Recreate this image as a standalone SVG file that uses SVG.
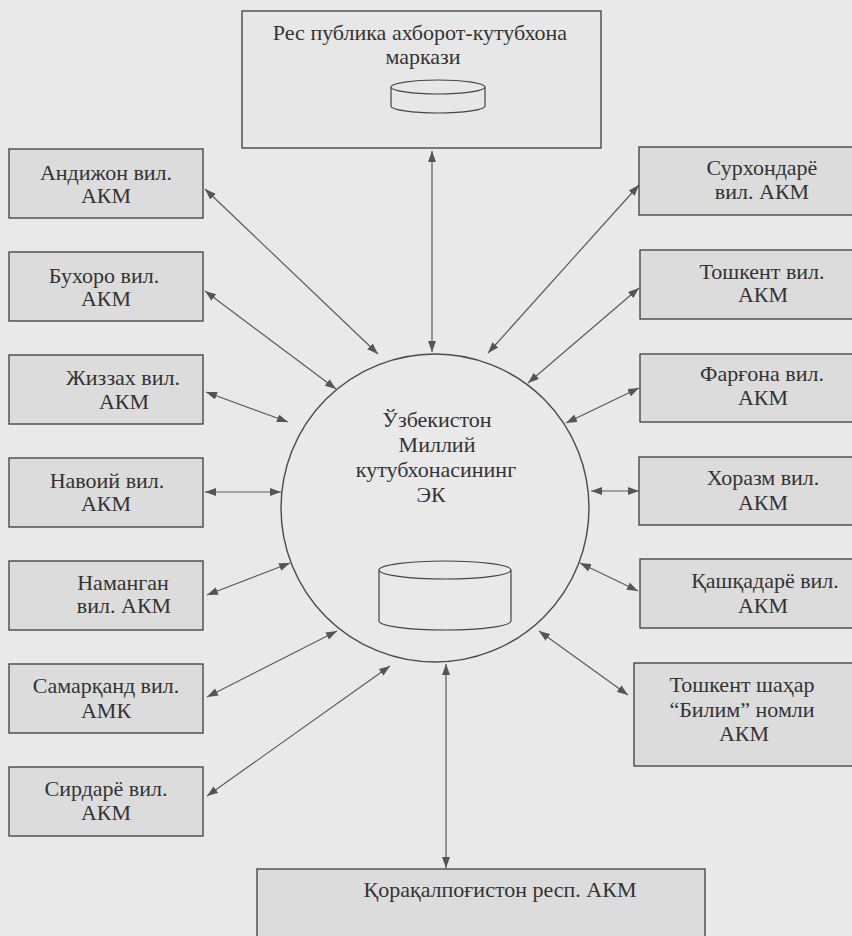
<svg xmlns="http://www.w3.org/2000/svg" width="852" height="936" viewBox="0 0 852 936">
<defs>
<marker id="ah" viewBox="0 0 11 8" refX="11" refY="4" markerWidth="11" markerHeight="8" markerUnits="userSpaceOnUse" orient="auto-start-reverse">
<path d="M0,0 L11,4 L0,8 z" fill="#555"/>
</marker>
</defs>
<style>
.bg{fill:#e9e9e9}
.box{fill:#dcdcdc;stroke:#3c3c3c;stroke-width:1.3}
.lbox{fill:#e7e7e7;stroke:#3c3c3c;stroke-width:1.3}
.t{font-family:'Liberation Serif','DejaVu Serif',serif;font-size:22px;fill:#333;text-anchor:middle}
.c{fill:none;stroke:#5a5a5a;stroke-width:1.2;marker-start:url(#ah);marker-end:url(#ah)}
.cyl{fill:none;stroke:#444;stroke-width:1.2}
</style>
<rect class="bg" x="0" y="0" width="852" height="936"/>

<g id="connectors">
<line class="c" x1="432" y1="151" x2="432" y2="352"/>
<line class="c" x1="446" y1="664" x2="446" y2="868"/>
<line class="c" x1="205" y1="189" x2="378" y2="354"/>
<line class="c" x1="205" y1="291" x2="336" y2="389"/>
<line class="c" x1="206" y1="392" x2="288" y2="422"/>
<line class="c" x1="205" y1="492" x2="281" y2="492"/>
<line class="c" x1="207" y1="595" x2="290" y2="563"/>
<line class="c" x1="207" y1="697" x2="337" y2="631"/>
<line class="c" x1="207" y1="796" x2="390" y2="666"/>
<line class="c" x1="488" y1="353" x2="639" y2="185"/>
<line class="c" x1="528" y1="383" x2="639" y2="288"/>
<line class="c" x1="566" y1="423" x2="639" y2="388"/>
<line class="c" x1="591" y1="491" x2="639" y2="491"/>
<line class="c" x1="580" y1="563" x2="638" y2="591"/>
<line class="c" x1="539" y1="631" x2="628" y2="695"/>
</g>

<g id="node-center">
<circle cx="435" cy="508" r="154" fill="#e9e9e9" stroke="#4a4a4a" stroke-width="1.4"/>
<text class="t" x="437" y="427">Ўзбекистон</text>
<text class="t" x="437" y="452">Миллий</text>
<text class="t" x="436" y="477">кутубхонасининг</text>
<text class="t" x="431" y="502">ЭК</text>
<path class="cyl" d="M379,570 A66,9 0 0 1 511,570 A66,9 0 0 1 379,570 Z M379,570 L379,621 A66,9 0 0 0 511,621 L511,570"/>
</g>

<g id="node-top">
<rect class="lbox" x="242" y="11" width="359" height="137"/>
<text class="t" x="420" y="40">Рес публика ахборот-кутубхона</text>
<text class="t" x="423" y="64">маркази</text>
<path class="cyl" d="M391,87 A47,7 0 0 1 485,87 A47,7 0 0 1 391,87 Z M391,87 L391,106 A47,7 0 0 0 485,106 L485,87"/>
</g>

<g id="node-andijon">
<rect class="box" x="9" y="149" width="194" height="69"/>
<text class="t" x="106" y="180">Андижон вил.</text>
<text class="t" x="106" y="203">АКМ</text>
</g>
<g id="node-bukhoro">
<rect class="box" x="9" y="252" width="194" height="69"/>
<text class="t" x="104" y="283">Бухоро вил.</text>
<text class="t" x="106" y="306">АКМ</text>
</g>
<g id="node-jizzakh">
<rect class="box" x="9" y="355" width="194" height="69"/>
<text class="t" x="123" y="385">Жиззах вил.</text>
<text class="t" x="124" y="409">АКМ</text>
</g>
<g id="node-navoi">
<rect class="box" x="9" y="458" width="194" height="69"/>
<text class="t" x="107" y="488">Навоий вил.</text>
<text class="t" x="106" y="511">АКМ</text>
</g>
<g id="node-namangan">
<rect class="box" x="9" y="561" width="194" height="69"/>
<text class="t" x="123" y="590">Наманган</text>
<text class="t" x="124" y="613">вил. АКМ</text>
</g>
<g id="node-samarkand">
<rect class="box" x="9" y="664" width="194" height="69"/>
<text class="t" x="106" y="693">Самарқанд вил.</text>
<text class="t" x="106" y="718">АМК</text>
</g>
<g id="node-sirdaryo">
<rect class="box" x="9" y="767" width="194" height="69"/>
<text class="t" x="106" y="796">Сирдарё вил.</text>
<text class="t" x="106" y="820">АКМ</text>
</g>

<g id="node-surkhondaryo">
<rect class="box" x="639" y="147" width="220" height="68"/>
<text class="t" x="762" y="175">Сурхондарё</text>
<text class="t" x="762" y="199">вил. АКМ</text>
</g>
<g id="node-toshkent">
<rect class="box" x="640" y="250" width="220" height="69"/>
<text class="t" x="762" y="279">Тошкент вил.</text>
<text class="t" x="763" y="302">АКМ</text>
</g>
<g id="node-fargona">
<rect class="box" x="640" y="354" width="220" height="68"/>
<text class="t" x="762" y="381">Фарғона вил.</text>
<text class="t" x="763" y="405">АКМ</text>
</g>
<g id="node-khorezm">
<rect class="box" x="639" y="457" width="220" height="68"/>
<text class="t" x="763" y="485">Хоразм вил.</text>
<text class="t" x="763" y="510">АКМ</text>
</g>
<g id="node-kashkadaryo">
<rect class="box" x="640" y="559" width="220" height="69"/>
<text class="t" x="765" y="588">Қашқадарё вил.</text>
<text class="t" x="763" y="613">АКМ</text>
</g>
<g id="node-toshkent-city">
<rect class="box" x="634" y="663" width="226" height="103"/>
<text class="t" x="742" y="692">Тошкент шаҳар</text>
<text class="t" x="742" y="717">“Билим” номли</text>
<text class="t" x="744" y="741">АКМ</text>
</g>

<g id="node-karakalpak">
<rect class="box" x="257" y="869" width="448" height="80"/>
<text class="t" x="500" y="897">Қорақалпоғистон респ. АКМ</text>
</g>
</svg>
